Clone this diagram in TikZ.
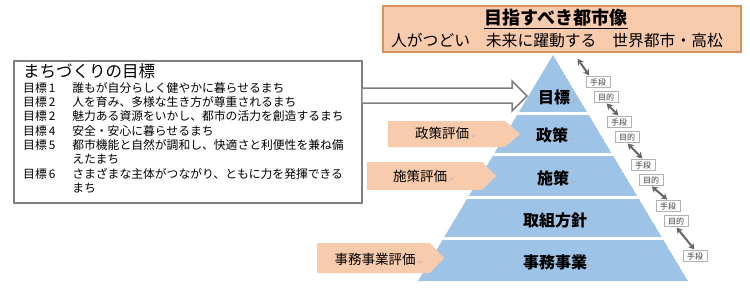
\documentclass[tikz,border=0pt]{standalone}
\usepackage{fontspec}
\setmainfont{Noto Sans CJK JP}
\newfontfamily\symfont{DejaVu Sans}
\usepackage{tikz}
\usetikzlibrary{arrows.meta, calc}
\definecolor{pyrblue}{HTML}{9DC3E6}
\definecolor{peach}{HTML}{F8CBAD}
\definecolor{peachline}{HTML}{D9925E}
\definecolor{boxgray}{HTML}{7F7F7F}
% small return mark after a label (zero width)
\newcommand{\retmark}{\rlap{\,\symfont\color{gray!60}\fontsize{6}{6}\selectfont ↵}}
\tikzset{
	visionbox/.style={draw=peachline, fill=peach, line width=1.2pt},
	goalbox/.style={draw=boxgray, line width=1.5pt, fill=white},
	bigarrow/.style={draw=boxgray, line width=1.5pt, fill=white, line join=miter},
	evalarrow/.style={fill=peach},
	evaltext/.style={font=\fontsize{13.5}{14}\selectfont, inner sep=0pt},
	layer/.style={font=\bfseries\fontsize{16}{18}\selectfont, inner sep=0pt},
	meansbox/.style={draw=gray!60, fill=white, line width=0.5pt, minimum width=24pt,
		minimum height=11pt, inner sep=0.5pt, font=\fontsize{8}{9}\selectfont, text=black!75},
	link/.style={draw=black!60, line width=2pt,
		{Stealth[length=6pt,width=7pt]}-{Stealth[length=6pt,width=7pt]}, shorten <=1pt, shorten >=1pt}
}

\begin{document}
\begin{tikzpicture}[x=1pt, y=-1pt]
	\useasboundingbox (0,0) rectangle (750,292);
	
	% Vision box at the top
	\node[visionbox, minimum width=358pt, minimum height=46pt] (vision) at (562,29) {};
	\node[font=\bfseries\fontsize{18}{20}\selectfont, inner sep=0pt] (vtitle) at (556,18) {目指すべき都市像};
	\draw[line width=1.5pt] ($(vtitle.south west)+(0,1.5)$) -- ($(vtitle.south east)+(0,1.5)$);
	\node[font=\fontsize{15.8}{18}\selectfont, inner sep=0pt] (vline) at (557,40) {人がつどい　未来に躍動する　世界都市・高松};
	
	% Goals of town planning
	\node[goalbox, anchor=north west, minimum width=348pt, minimum height=142pt] (goals) at (13,60) {};
	\node[anchor=west, inner sep=0pt, font=\fontsize{16.5}{18}\selectfont] (gtitle) at (23,71) {まちづくりの目標};
	\node[anchor=north west, inner sep=0pt, font=\fontsize{11.8}{14.3}\selectfont] (glist) at (23,82) {%
		\begin{tabular}{@{}l@{\hspace{17pt}}l@{}}
			目標\,1 & 誰もが自分らしく健やかに暮らせるまち\\
			目標\,2 & 人を育み、多様な生き方が尊重されるまち\\
			目標\,2 & 魅力ある資源をいかし、都市の活力を創造するまち\\
			目標\,4 & 安全・安心に暮らせるまち\\
			目標\,5 & 都市機能と自然が調和し、快適さと利便性を兼ね備\\
			& えたまち\\
			目標\,6 & さまざまな主体がつながり、ともに力を発揮できる\\
			& まち
		\end{tabular}};
	
	% Pyramid with white gaps between the layers
	\coordinate (apex) at (553,55);
	\begin{scope}
		\clip (apex) -- (688,281) -- (418,281) -- cycle;
		\fill[pyrblue] (apex) -- (688,281) -- (418,281) -- cycle;
		\foreach \y in {113,154,197,238} {
			\draw[white, line width=3pt] (400,\y) -- (700,\y);
		}
	\end{scope}
	\node[layer] (lgoal) at (554,97) {目標\retmark};
	\node[layer] (lpolicy) at (552,135) {政策\retmark};
	\node[layer] (lmeasure) at (553,178) {施策\retmark};
	\node[layer] (lplan) at (555,220) {取組方針\retmark};
	\node[layer] (lproject) at (555,262) {事務事業\retmark};
	
	% Hollow arrow from the goals to the top layer
	\draw[bigarrow] (goals.east |- 0,88) -- (512,88) -- (512,81) -- (527,96)
		-- (512,111) -- (512,103) -- (goals.east |- 0,103);
	
	% Evaluation arrows
	\fill[evalarrow] (388,121) -- (505,121) -- (520,134) -- (505,147) -- (388,147) -- cycle;
	\fill[evalarrow] (367,162) -- (482,162) -- (496,176) -- (482,190) -- (367,190) -- cycle;
	\fill[evalarrow] (317,243) -- (430,243) -- (444,258) -- (430,273) -- (317,273) -- cycle;
	\node[evaltext] (epolicy) at (442,133) {政策評価\retmark};
	\node[evaltext] (emeasure) at (420,176) {施策評価\retmark};
	\node[evaltext] (eproject) at (375,259) {事務事業評価\retmark};
	
	% Means / ends chain along the right side
	\foreach \i/\x/\y in {1/598/82, 2/619/122, 3/643/165, 4/668/206} {
		\node[meansbox] (s\i) at (\x,\y) {手段};
		\node[meansbox] (m\i) at (\x+8,\y+15) {目的};
	}
	\node[meansbox] (s5) at (695,256) {手段};
	\coordinate (topend) at (577,58);
	\draw[link] (topend) -- ([xshift=4pt]s1.north west);
	\foreach \i [evaluate=\i as \j using int(\i+1)] in {1,...,4} {
		\draw[link] (m\i.south) -- (s\j.north);
	}
	
\end{tikzpicture}
\end{document}
